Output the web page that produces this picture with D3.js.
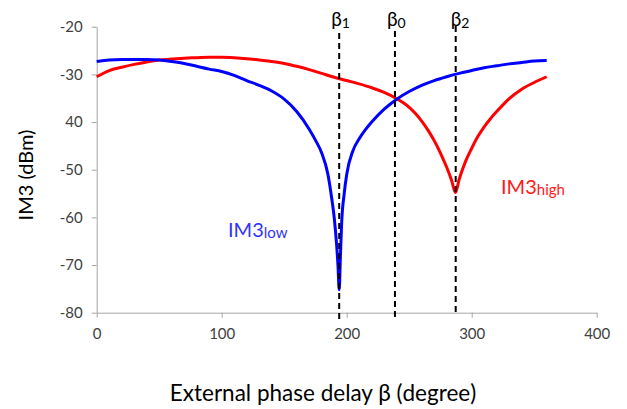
<!DOCTYPE html>
<html>
<head>
<meta charset="utf-8">
<script src="https://cdn.jsdelivr.net/npm/d3@7"></script>
<style>
  body { margin: 0; background: #fff; }
  svg { display: block; font-family: Lato, "Open Sans", sans-serif; }
  .tick text { fill: #404040; font-size: 15px; }
  .axis path, .axis line { stroke: #a6a6a6; }
</style>
</head>
<body>
<svg id="chart" width="627" height="409"></svg>
<script>
// data (degree, dBm)
var lowDeg = [0, 10, 20, 30, 40, 50, 60, 70, 80, 90, 100, 110, 120, 130, 140, 150, 160, 170, 175, 180, 185, 188, 190, 192, 193, 194,
  195, 196, 198, 200, 205, 210, 215, 220, 230, 240, 250, 260, 270, 280, 290, 300, 310, 320, 330, 340, 350, 360];
var lowDb = [-27.3, -27.0, -26.9, -26.9, -26.9, -27.0, -27.3, -27.7, -28.3, -28.9, -29.4, -30.2, -31.3, -32.3, -33.5, -35.2, -37.8, -41.5, -43.8, -46.5, -51, -56, -60, -66, -70, -75.2,
  -68, -61, -55, -51, -46, -43.5, -41.6, -40.0, -37.3, -35.2, -33.6, -32.3, -31.3, -30.5, -29.8, -29.2, -28.6, -28.2, -27.8, -27.5, -27.2, -27.1];

var highDeg = [0, 10, 20, 30, 40, 50, 60, 70, 80, 90, 100, 110, 120, 130, 140, 150, 160, 170, 180, 190, 200, 210, 220, 230, 240, 245,
  250, 255, 260, 265, 270, 275, 280, 284, 287, 290, 295, 300, 305, 310, 315, 320, 325, 330, 340, 350, 360];
var highDb = [-30.5, -29.2, -28.5, -27.9, -27.4, -27.0, -26.8, -26.6, -26.5, -26.4, -26.4, -26.5, -26.7, -27.0, -27.3, -27.7, -28.3, -29.0, -29.8, -30.6, -31.3, -32.0, -32.8, -33.8, -35.1, -35.9,
  -36.9, -38.2, -39.8, -41.7, -43.9, -46.5, -49.5, -52.3, -54.8, -52.0, -48.3, -45.5, -43.0, -41.0, -39.3, -37.8, -36.4, -35.1, -33.1, -31.7, -30.5];

var xTicks = [0, 100, 200, 300, 400];
var yTicks = [-80, -70, -60, -50, -40, -30, -20];
var yTickLabels = ['-80', '-70', '-60', '-50', '40', '-30', '-20'];

var markerNames = ['1', '0', '2'];
var markerDeg = [194, 238.6, 287.2];

var svg = d3.select('#chart');
var x = d3.scaleLinear().domain([0, 400]).range([96.7, 596.7]);
var y = d3.scaleLinear().domain([-80, -20]).range([312.7, 26.7]);

svg.append('g').attr('class', 'axis')
  .attr('transform', 'translate(0,' + y(-80) + ')')
  .call(d3.axisBottom(x).tickValues(xTicks).tickSize(5).tickSizeOuter(0).tickPadding(11));

svg.append('g').attr('class', 'axis')
  .attr('transform', 'translate(' + x(0) + ',0)')
  .call(d3.axisLeft(y).tickValues(yTicks).tickSize(5).tickSizeOuter(0).tickPadding(9)
    .tickFormat(function (d, i) { return yTickLabels[i]; }));

svg.selectAll('.axis .domain').attr('stroke', '#a6a6a6');
svg.selectAll('.axis text').attr('font-family', 'Lato, sans-serif');

var line = d3.line()
  .x(function (d) { return x(d[0]); })
  .y(function (d) { return y(d[1]); })
  .curve(d3.curveMonotoneX);

svg.append('path')
  .datum(highDeg.map(function (d, i) { return [d, highDb[i]]; }))
  .attr('fill', 'none').attr('stroke', '#ff0000').attr('stroke-width', 3)
  .attr('d', line);

svg.append('path')
  .datum(lowDeg.map(function (d, i) { return [d, lowDb[i]]; }))
  .attr('fill', 'none').attr('stroke', '#0000ff').attr('stroke-width', 3)
  .attr('d', line);

// dashed markers
var markerTop = [33, 31, 26];
var markerBottom = [322, 318, 313];
markerDeg.forEach(function (d, i) {
  svg.append('line')
    .attr('x1', x(d)).attr('x2', x(d))
    .attr('y1', markerTop[i]).attr('y2', markerBottom[i])
    .attr('stroke', '#000').attr('stroke-width', 2)
    .attr('stroke-dasharray', '6,4');
  var t = svg.append('text')
    .attr('x', x(d) - 8 + (i === 2 ? 3 : 0)).attr('y', 26)
    .attr('font-size', 19).attr('fill', '#000');
  t.append('tspan').text('β');
  t.append('tspan').attr('font-size', 14).attr('dy', 2).text(markerNames[i]);
});

// series labels
var lowLabel = svg.append('text').attr('x', 228).attr('y', 237)
  .attr('font-size', 20).attr('fill', '#3333ff');
lowLabel.append('tspan').text('IM3');
lowLabel.append('tspan').attr('font-size', 15).attr('dy', 1).text('low');

var highLabel = svg.append('text').attr('x', 501).attr('y', 194)
  .attr('font-size', 20).attr('fill', '#ff1a1a');
highLabel.append('tspan').text('IM3');
highLabel.append('tspan').attr('font-size', 15).attr('dy', 1).text('high');

// axis titles
svg.append('text')
  .attr('x', 323).attr('y', 401)
  .attr('text-anchor', 'middle').attr('font-size', 22.5).attr('fill', '#000')
  .text('External phase delay β (degree)');

svg.append('text')
  .attr('transform', 'translate(33,175) rotate(-90)')
  .attr('text-anchor', 'middle').attr('font-size', 20).attr('fill', '#000')
  .text('IM3  (dBm)');
</script>
</body>
</html>
